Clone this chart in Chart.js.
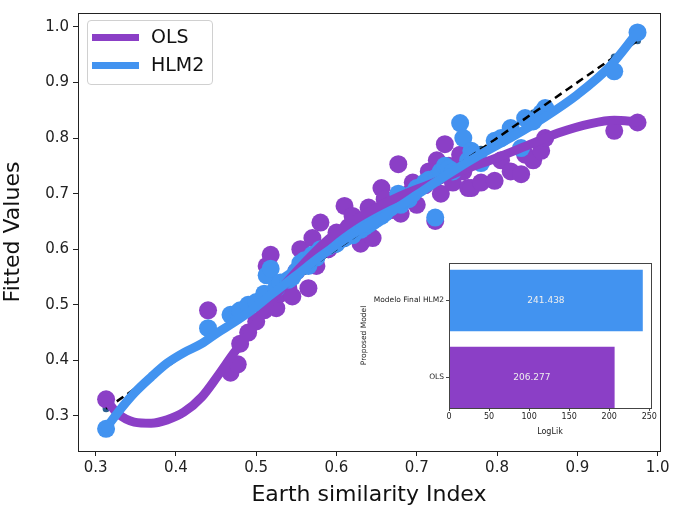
<!DOCTYPE html>
<html>
<head>
<meta charset="utf-8">
<script src="https://cdn.jsdelivr.net/npm/chart.js@4/dist/chart.umd.min.js"></script>
<style>
  body { margin: 0; background: #fff; }
  #wrap { position: relative; width: 679px; height: 508px; font-family: "DejaVu Sans", sans-serif; }
  #mainChart { position: absolute; left: 0; top: 0; }
  #insetChart { position: absolute; left: 360px; top: 255px; }
  #legend {
    position: absolute; left: 87px; top: 20px; width: 124px; height: 63px;
    border: 1px solid #d0d0d0; border-radius: 4px; background: rgba(255,255,255,0.85);
    font-size: 19px; color: #111;
  }
  .row { position: absolute; left: 4px; height: 24px; line-height: 24px; }
  .row span.sw { position: absolute; left: 0; top: 9px; width: 47px; height: 7px; }
  .row span.lb { position: absolute; left: 59px; top: -1px; white-space: nowrap; }
</style>
</head>
<body>
<div id="wrap">
  <canvas id="mainChart" width="679" height="508"></canvas>
  <canvas id="insetChart" width="298" height="182"></canvas>
  <div id="legend">
    <div class="row" style="top:4px"><span class="sw" style="background:#8b3fc6"></span><span class="lb">OLS</span></div>
    <div class="row" style="top:32px"><span class="sw" style="background:#4293f0"></span><span class="lb">HLM2</span></div>
  </div>
</div>
<script>
// Earth similarity index of each planet and the fitted values of both models
const esi = [0.313, 0.44, 0.468, 0.477, 0.48, 0.49, 0.50, 0.51, 0.513, 0.518,
  0.525, 0.53, 0.54, 0.545, 0.55, 0.555, 0.56, 0.565, 0.57, 0.575,
  0.58, 0.59, 0.60, 0.61, 0.615, 0.62, 0.63, 0.635, 0.64, 0.645,
  0.65, 0.656, 0.66, 0.667, 0.677, 0.68, 0.69, 0.695, 0.70, 0.71,
  0.715, 0.723, 0.725, 0.73, 0.735, 0.74, 0.745, 0.754, 0.758, 0.764,
  0.768, 0.77, 0.78, 0.797, 0.805, 0.817, 0.83, 0.835, 0.845, 0.855,
  0.86, 0.946, 0.975];
const olsFit = [0.33, 0.49, 0.378, 0.393, 0.43, 0.45, 0.47, 0.49, 0.57, 0.59,
  0.494, 0.52, 0.53, 0.515, 0.56, 0.60, 0.58, 0.53, 0.62, 0.57,
  0.648, 0.60, 0.63, 0.678, 0.64, 0.66, 0.61, 0.65, 0.675, 0.62,
  0.66, 0.71, 0.69, 0.67, 0.753, 0.664, 0.70, 0.72, 0.68, 0.715,
  0.74, 0.651, 0.76, 0.70, 0.789, 0.75, 0.72, 0.77, 0.74, 0.71,
  0.71, 0.76, 0.72, 0.723, 0.76, 0.74, 0.735, 0.77, 0.76, 0.777,
  0.80, 0.813, 0.828];
const hlmFit = [0.277, 0.458, 0.482, 0.486, 0.49, 0.50, 0.505, 0.52, 0.553, 0.565,
  0.53, 0.54, 0.545, 0.55, 0.56, 0.575, 0.58, 0.57, 0.59, 0.585,
  0.60, 0.605, 0.61, 0.62, 0.63, 0.625, 0.635, 0.64, 0.645, 0.65,
  0.655, 0.66, 0.665, 0.675, 0.70, 0.68, 0.69, 0.70, 0.71, 0.72,
  0.725, 0.657, 0.73, 0.74, 0.75, 0.745, 0.74, 0.827, 0.80, 0.76,
  0.777, 0.77, 0.755, 0.795, 0.80, 0.818, 0.782, 0.836, 0.83, 0.845,
  0.854, 0.92, 0.99];
// observed values (perfect fit line)
const observed = esi.slice();

// smoothed trend lines
const olsCurveX = [0.313, 0.327, 0.348, 0.369, 0.389, 0.41, 0.432, 0.451, 0.472, 0.494,
  0.51, 0.53, 0.56, 0.59, 0.62, 0.65, 0.68, 0.72, 0.755, 0.795, 0.835, 0.876, 0.917, 0.946, 0.975];
const olsCurveY = [0.329, 0.305, 0.289, 0.287, 0.293, 0.307, 0.334, 0.37, 0.413, 0.454,
  0.49, 0.527, 0.575, 0.618, 0.65, 0.675, 0.696, 0.719, 0.741, 0.762, 0.785, 0.809, 0.826, 0.832, 0.829];
const hlmCurveX = [0.313, 0.327, 0.348, 0.369, 0.389, 0.41, 0.432, 0.451, 0.472, 0.494,
  0.52, 0.55, 0.58, 0.62, 0.66, 0.70, 0.74, 0.78, 0.82, 0.86, 0.90, 0.94, 0.975];
const hlmCurveY = [0.278, 0.305, 0.341, 0.37, 0.395, 0.414, 0.43, 0.449, 0.468, 0.49,
  0.52, 0.553, 0.587, 0.627, 0.66, 0.698, 0.736, 0.771, 0.803, 0.838, 0.878, 0.928, 0.99];

const xTicks = [0.3, 0.4, 0.5, 0.6, 0.7, 0.8, 0.9, 1.0];
const yTicks = [0.3, 0.4, 0.5, 0.6, 0.7, 0.8, 0.9, 1.0];

// inset bar chart
const modelNames = ['OLS', 'Modelo Final HLM2'];
const modelPos = [0, 1];
const logLik = [206.277, 241.438];
const logLikTicks = [0, 50, 100, 150, 200, 250];

const PURPLE = '#8b3fc6';
const BLUE = '#4293f0';

const toPoints = (xs, ys) => xs.map((x, i) => ({x: x, y: ys[i]}));

// draws the box around the plot area, matplotlib style
const framePlugin = {
  id: 'frame',
  afterDraw(chart, args, opts) {
    const a = chart.chartArea, ctx = chart.ctx;
    ctx.save();
    ctx.strokeStyle = opts.color || '#222';
    ctx.lineWidth = 1;
    ctx.strokeRect(Math.round(a.left) + 0.5, Math.round(a.top) + 0.5,
      Math.round(a.right - a.left), Math.round(a.bottom - a.top));
    ctx.restore();
  }
};

new Chart(document.getElementById('mainChart'), {
  type: 'scatter',
  data: {
    datasets: [
      {
        label: 'HLM2 trend', data: toPoints(hlmCurveX, hlmCurveY), showLine: true,
        borderColor: BLUE, borderWidth: 9, pointRadius: 0, cubicInterpolationMode: 'monotone',
        borderCapStyle: 'round', order: 1
      },
      {
        label: 'OLS trend', data: toPoints(olsCurveX, olsCurveY), showLine: true,
        borderColor: PURPLE, borderWidth: 9, pointRadius: 0, cubicInterpolationMode: 'monotone',
        borderCapStyle: 'round', order: 2
      },
      {
        label: 'Perfect fit', data: toPoints(esi, observed), showLine: true,
        borderColor: '#000', borderWidth: 2.5, borderDash: [8, 5], pointRadius: 0, order: 3
      },
      {
        label: 'HLM2', data: toPoints(esi, hlmFit),
        backgroundColor: BLUE, borderWidth: 0, pointRadius: 9, order: 4
      },
      {
        label: 'OLS', data: toPoints(esi, olsFit),
        backgroundColor: PURPLE, borderWidth: 0, pointRadius: 9, order: 5
      },
      {
        label: 'Observed', data: toPoints(esi, observed),
        backgroundColor: '#2b5f8e', borderWidth: 0, pointRadius: 3.5, order: 6
      }
    ]
  },
  options: {
    responsive: false,
    animation: false,
    events: [],
    layout: { padding: { top: 11, right: 19, left: 0, bottom: 0 } },
    plugins: { legend: { display: false }, tooltip: { enabled: false }, frame: { color: '#222' } },
    scales: {
      x: {
        type: 'linear', min: 0.278, max: 1.003,
        afterBuildTicks: s => { s.ticks = xTicks.map(v => ({value: v})); },
        afterFit: s => { s.height = 57; },
        grid: { drawOnChartArea: false, drawTicks: true, tickLength: 5, color: '#222' },
        border: { color: '#222' },
        ticks: { color: '#222', font: { family: 'DejaVu Sans', size: 15 }, padding: 3, maxRotation: 0,
          callback: v => v.toFixed(1) },
        title: { display: true, text: 'Earth similarity Index', color: '#111',
          font: { family: 'DejaVu Sans', size: 22 }, padding: { top: 0, bottom: 0 } }
      },
      y: {
        type: 'linear', min: 0.237, max: 1.025,
        afterBuildTicks: s => { s.ticks = yTicks.map(v => ({value: v})); },
        afterFit: s => { s.width = 78; },
        grid: { drawOnChartArea: false, drawTicks: true, tickLength: 5, color: '#222' },
        border: { color: '#222' },
        ticks: { color: '#222', font: { family: 'DejaVu Sans', size: 15 }, padding: 4,
          callback: v => v.toFixed(1) },
        title: { display: true, text: 'Fitted Values', color: '#111',
          font: { family: 'DejaVu Sans', size: 22 }, padding: { top: 0, bottom: 4 } }
      }
    }
  },
  plugins: [framePlugin]
});

// value labels inside the bars
const barLabelPlugin = {
  id: 'barLabels',
  afterDatasetsDraw(chart) {
    const ctx = chart.ctx;
    const meta = chart.getDatasetMeta(0);
    ctx.save();
    ctx.fillStyle = '#eeeeee';
    ctx.font = '9px "DejaVu Sans"';
    ctx.textAlign = 'center';
    ctx.textBaseline = 'middle';
    meta.data.forEach((bar, i) => {
      ctx.fillText(logLik[i].toFixed(3), (bar.base + bar.x) / 2, bar.y);
    });
    ctx.restore();
  }
};

new Chart(document.getElementById('insetChart'), {
  type: 'bar',
  data: {
    datasets: [{
      data: toPoints(logLik, modelPos),
      backgroundColor: [PURPLE, BLUE],
      borderWidth: 0,
      barThickness: 61
    }]
  },
  options: {
    indexAxis: 'y',
    responsive: false,
    animation: false,
    events: [],
    layout: { padding: { top: 8, right: 6, left: 0, bottom: 0 } },
    plugins: { legend: { display: false }, tooltip: { enabled: false }, frame: { color: '#444' } },
    scales: {
      x: {
        type: 'linear', min: 0, max: 252,
        afterBuildTicks: s => { s.ticks = logLikTicks.map(v => ({value: v})); },
        afterFit: s => { s.height = 29; },
        grid: { drawOnChartArea: false, tickLength: 3, color: '#444' },
        border: { color: '#444' },
        ticks: { color: '#222', font: { family: 'DejaVu Sans', size: 8 }, padding: 1, maxRotation: 0 },
        title: { display: true, text: 'LogLik', color: '#222', font: { family: 'DejaVu Sans', size: 8 },
          padding: { top: 1, bottom: 0 } }
      },
      y: {
        type: 'linear', min: -0.396, max: 1.487, offset: false,
        afterBuildTicks: s => { s.ticks = modelPos.map(v => ({value: v})); },
        afterFit: s => { s.width = 89; },
        grid: { drawOnChartArea: false, offset: false, tickLength: 3, color: '#444' },
        border: { color: '#444' },
        ticks: { color: '#222', font: { family: 'DejaVu Sans', size: 7.5 }, padding: 2,
          callback: v => modelNames[modelPos.indexOf(v)] },
        title: { display: true, text: 'Proposed Model', color: '#222',
          font: { family: 'DejaVu Sans', size: 7.5 }, padding: { top: 0, bottom: 0 } }
      }
    }
  },
  plugins: [framePlugin, barLabelPlugin]
});
</script>
</body>
</html>
